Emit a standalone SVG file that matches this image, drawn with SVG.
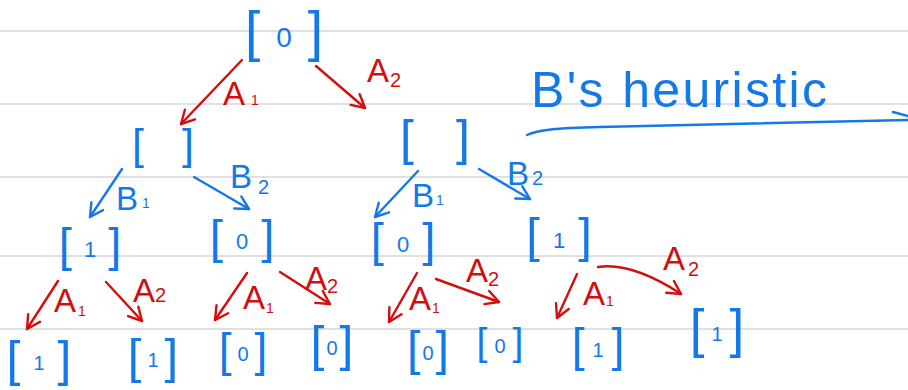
<svg xmlns="http://www.w3.org/2000/svg" width="908" height="390" viewBox="0 0 908 390">
  <style>
    .rule { stroke: #d6d6d6; stroke-width: 1.6; }
    .blue { fill: #1479e8; }
    .red { fill: #d40d0d; }
    .ln-b { fill: none; stroke: #1479e8; stroke-width: 2.4; stroke-linecap: round; }
    .ln-r { fill: none; stroke: #d40d0d; stroke-width: 2.4; stroke-linecap: round; }
    text { font-family: "Liberation Sans", Arial, sans-serif; }
    .nd { fill: #1479e8; text-anchor: middle; }
    .dg2 { font-size: 22px; }
    .dg3 { font-size: 20px; }
    .lbl { font-size: 33px; }
    .sub { font-size: 14px; }
    .sub2 { font-size: 20px; }
  </style>
  <defs>
    <marker id="ah-r" viewBox="-16 -9 18 18" refX="0" refY="0" markerWidth="18" markerHeight="18" markerUnits="userSpaceOnUse" orient="auto">
      <path d="M-13,-7 L0,0 L-13,7" fill="none" stroke="#d40d0d" stroke-width="2.4" stroke-linecap="round" stroke-linejoin="round"/>
    </marker>
    <marker id="ah-b" viewBox="-16 -9 18 18" refX="0" refY="0" markerWidth="18" markerHeight="18" markerUnits="userSpaceOnUse" orient="auto">
      <path d="M-13,-7 L0,0 L-13,7" fill="none" stroke="#1479e8" stroke-width="2.4" stroke-linecap="round" stroke-linejoin="round"/>
    </marker>
  </defs>

  <rect width="908" height="390" fill="#ffffff"/>

  <!-- ruled paper -->
  <g id="rules">
    <line class="rule" x1="0" y1="31" x2="908" y2="31"/>
    <line class="rule" x1="0" y1="104" x2="908" y2="104"/>
    <line class="rule" x1="0" y1="177" x2="908" y2="177"/>
    <line class="rule" x1="0" y1="256" x2="908" y2="256"/>
    <line class="rule" x1="0" y1="329" x2="908" y2="329"/>
  </g>

  <!-- edges -->
  <g id="connectors">
    <!-- A moves (red) -->
    <path class="ln-r" d="M242,60 L181,124" marker-end="url(#ah-r)"/>
    <path class="ln-r" d="M316,66 L365,108" marker-end="url(#ah-r)"/>
    <path class="ln-r" d="M58,281 L27,329" marker-end="url(#ah-r)"/>
    <path class="ln-r" d="M106,282 L142,321" marker-end="url(#ah-r)"/>
    <path class="ln-r" d="M247,273 L215,320" marker-end="url(#ah-r)"/>
    <path class="ln-r" d="M280,272 L330,304" marker-end="url(#ah-r)"/>
    <path class="ln-r" d="M417,273 L389,322" marker-end="url(#ah-r)"/>
    <path class="ln-r" d="M436,279 L499,302" marker-end="url(#ah-r)"/>
    <path class="ln-r" d="M577,274 L557,318" marker-end="url(#ah-r)"/>
    <path class="ln-r" d="M598,267 Q632,262 681,294" marker-end="url(#ah-r)"/>
    <!-- B moves (blue) -->
    <path class="ln-b" d="M122,169 L90,217" marker-end="url(#ah-b)"/>
    <path class="ln-b" d="M194,177 L249,209" marker-end="url(#ah-b)"/>
    <path class="ln-b" d="M418,171 L375,217" marker-end="url(#ah-b)"/>
    <path class="ln-b" d="M479,169 L530,199" marker-end="url(#ah-b)"/>
  </g>

  <!-- edge labels -->
  <g id="edge-labels">
    <text class="lbl red" x="223" y="105">A<tspan class="sub" dx="6">1</tspan></text>
    <text class="lbl red" x="367" y="82">A<tspan class="sub2" dx="1" dy="5">2</tspan></text>
    <text class="lbl red" x="54" y="312">A<tspan class="sub" dx="2" dy="4">1</tspan></text>
    <text class="lbl red" x="133" y="302">A<tspan class="sub2" dx="0">2</tspan></text>
    <text class="lbl red" x="243" y="309">A<tspan class="sub" dx="1" dy="4">1</tspan></text>
    <text class="lbl red" x="305" y="290">A<tspan class="sub2" dx="0" dy="3">2</tspan></text>
    <text class="lbl red" x="409" y="310">A<tspan class="sub" dx="1" dy="3">1</tspan></text>
    <text class="lbl red" x="466" y="282">A<tspan class="sub2" dx="0" dy="4">2</tspan></text>
    <text class="lbl red" x="583" y="305">A<tspan class="sub" dx="1" dy="1">1</tspan></text>
    <text class="lbl red" x="663" y="270">A<tspan class="sub2" dx="3" dy="6">2</tspan></text>

    <text class="lbl blue" x="116" y="210">B<tspan class="sub" dx="4" dy="-2">1</tspan></text>
    <text class="lbl blue" x="230" y="188">B<tspan class="sub2" dx="6" dy="6">2</tspan></text>
    <text class="lbl blue" x="412" y="207">B<tspan class="sub" dx="2" dy="-2">1</tspan></text>
    <text class="lbl blue" x="507" y="185">B<tspan class="sub2" dx="3">2</tspan></text>
  </g>

  <!-- game tree nodes -->
  <g id="n-root"><text class="nd" x="284" y="50" font-size="55">[<tspan font-size="28" dx="16" dy="-3">0</tspan><tspan dx="16" dy="3">]</tspan></text></g>

  <g id="n-a1"><text class="nd" x="163" y="159" font-size="43">[<tspan dx="38">]</tspan></text></g>
  <g id="n-a2"><text class="nd" x="435" y="155" font-size="50">[<tspan dx="42">]</tspan></text></g>

  <g id="n-a1b1"><text class="nd" x="90" y="261" font-size="47">[<tspan class="dg2" dx="12" dy="-4">1</tspan><tspan dx="12" dy="4">]</tspan></text></g>
  <g id="n-a1b2"><text class="nd" x="242" y="253" font-size="47">[<tspan class="dg2" dx="13" dy="-4">0</tspan><tspan dx="13" dy="4">]</tspan></text></g>
  <g id="n-a2b1"><text class="nd" x="403" y="256" font-size="47">[<tspan class="dg2" dx="13" dy="-4">0</tspan><tspan dx="13" dy="4">]</tspan></text></g>
  <g id="n-a2b2"><text class="nd" x="559" y="252" font-size="49">[<tspan class="dg2" dx="13" dy="-4">1</tspan><tspan dx="13" dy="4">]</tspan></text></g>

  <g id="n-a1b1a1"><text class="nd" x="39" y="376" font-size="50">[<tspan class="dg3" dx="13" dy="-6">1</tspan><tspan dx="13" dy="6">]</tspan></text></g>
  <g id="n-a1b1a2"><text class="nd" x="153" y="373" font-size="49">[<tspan class="dg3" dx="6" dy="-6">1</tspan><tspan dx="6" dy="6">]</tspan></text></g>
  <g id="n-a1b2a1"><text class="nd" x="243" y="366" font-size="46">[<tspan class="dg3" dx="6" dy="-5">0</tspan><tspan dx="6" dy="5">]</tspan></text></g>
  <g id="n-a1b2a2"><text class="nd" x="332" y="361" font-size="50">[<tspan class="dg3" dx="2" dy="-6">0</tspan><tspan dx="2" dy="6">]</tspan></text></g>
  <g id="n-a2b1a1"><text class="nd" x="428" y="365" font-size="48">[<tspan class="dg3" dx="2" dy="-5">0</tspan><tspan dx="2" dy="5">]</tspan></text></g>
  <g id="n-a2b1a2"><text class="nd" x="500" y="355" font-size="39">[<tspan class="dg3" dx="7" dy="-2">0</tspan><tspan dx="7" dy="2">]</tspan></text></g>
  <g id="n-a2b2a1"><text class="nd" x="598" y="361" font-size="46">[<tspan class="dg3" dx="8" dy="-4">1</tspan><tspan dx="8" dy="4">]</tspan></text></g>
  <g id="n-a2b2a2"><text class="nd" x="717" y="347" font-size="53">[<tspan class="dg3" dx="7" dy="-6">1</tspan><tspan dx="7" dy="6">]</tspan></text></g>

  <!-- side note -->
  <g id="note">
    <text class="blue" x="531" y="107" font-size="50" textLength="296" lengthAdjust="spacing">B's heuristic</text>
    <path class="ln-b" d="M527,135 C538,130 555,128 600,127 L908,120"/>
    <path class="ln-b" d="M893,112 L908,116"/>
  </g>
</svg>
